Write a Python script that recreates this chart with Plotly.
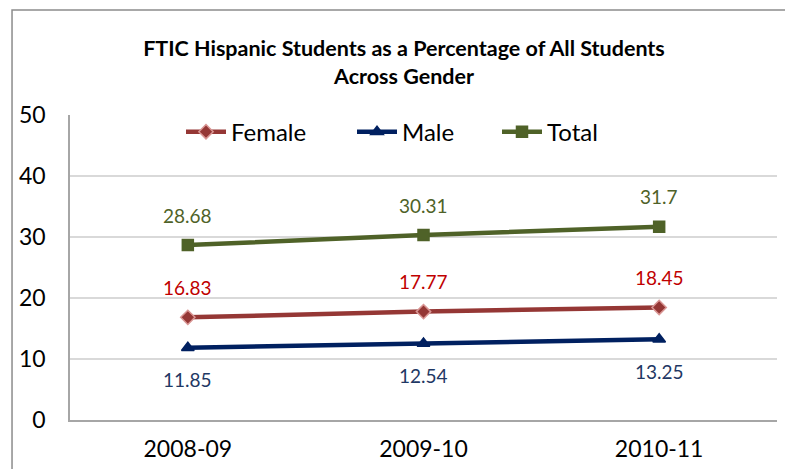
import plotly.graph_objects as go

categories = ["2008-09", "2009-10", "2010-11"]
female = [16.83, 17.77, 18.45]
male = [11.85, 12.54, 13.25]
total = [28.68, 30.31, 31.7]
y_ticks = [0, 10, 20, 30, 40, 50]

FONT = "Lato"
fig = go.Figure()

series = [
    ("Female", female, "#953735", "diamond", "#D99694", "#C00000", 30, "legend"),
    ("Male", male, "#002060", "triangle-up", "#002060", "#1F3864", -32, "legend2"),
    ("Total", total, "#4F6228", "square", "#4F6228", "#4F6228", 30, "legend3"),
]
for name, vals, col, sym, mline, tcol, shift, leg in series:
    fig.add_trace(go.Scatter(
        x=categories, y=vals, name=name, mode="lines+markers", legend=leg, showlegend=True,
        line=dict(color=col, width=4.5),
        marker=dict(symbol=sym, size=11, color=col, line=dict(color=mline, width=1.5)),
    ))
    for c, v in zip(categories, vals):
        fig.add_annotation(x=c, y=v, text=f"{v:g}", showarrow=False, yshift=shift,
                           font=dict(family=FONT, size=19, color=tcol))

fig.add_shape(type="rect", xref="paper", yref="paper", x0=-0.082, x1=1.1, y0=-0.3, y1=1.344,
              line=dict(color="#8C8C8C", width=1.5), fillcolor="rgba(0,0,0,0)", layer="below")

def leg(xpx):
    return dict(orientation="h", x=(xpx - 70) / 707, y=0.944, xanchor="left", yanchor="middle",
                font=dict(family=FONT, size=24, color="black"), bgcolor="rgba(0,0,0,0)",
                itemwidth=40)

fig.update_layout(
    width=785, height=469, showlegend=True,
    margin=dict(l=70, r=8, t=115, b=49),
    paper_bgcolor="white", plot_bgcolor="white",
    font=dict(family=FONT, size=20, color="black"),
    title=dict(text="<b>FTIC Hispanic Students as a Percentage of All Students<br>Across Gender</b>",
               x=(404 - 70) / 707, xref="paper", xanchor="center", y=0.881, yanchor="middle",
               font=dict(family=FONT, size=21.5, color="black")),
    legend=leg(181), legend2=leg(352), legend3=leg(497),
    xaxis=dict(type="category", showgrid=False, showline=True, linecolor="#A6A6A6", linewidth=1.5,
               ticks="", tickfont=dict(size=23), ticklabelstandoff=8, range=[-0.5, 2.5]),
    yaxis=dict(range=[0, 50], tickvals=y_ticks, showgrid=True, gridcolor="#D9D9D9", gridwidth=1.5,
               showline=True, linecolor="#A6A6A6", linewidth=1.5, zeroline=False,
               ticks="", tickfont=dict(size=23), ticklabelstandoff=18),
)
fig.write_html("out.html")
